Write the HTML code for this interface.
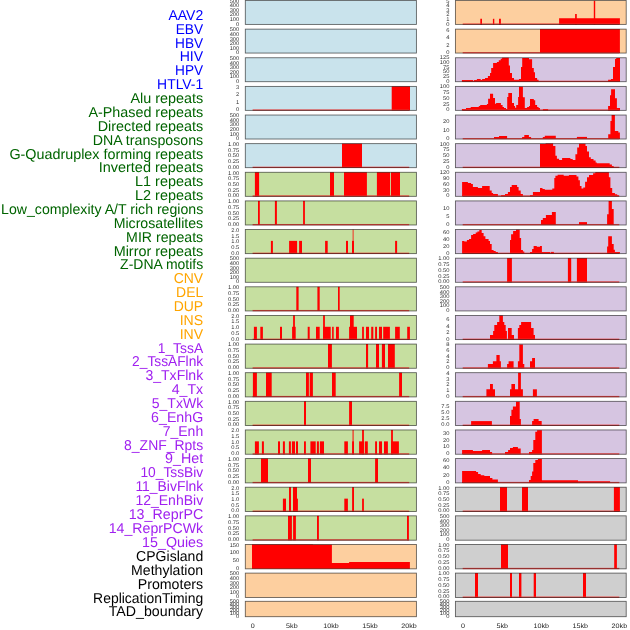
<!DOCTYPE html>
<html><head><meta charset="utf-8"><title>chart</title>
<style>html,body{margin:0;padding:0;background:#fff;}svg{display:block;will-change:transform;}text{font-family:"Liberation Sans",sans-serif;text-rendering:geometricPrecision;}</style>
</head><body>
<svg width="630" height="630" viewBox="0 0 630 630">
<rect width="630" height="630" fill="#ffffff"/>
<g font-size="14.35" text-anchor="end" opacity="0.999">
<text x="203.2" y="19.90" fill="#0000ff" textLength="34.8" lengthAdjust="spacingAndGlyphs">AAV2</text>
<text x="203.2" y="33.76" fill="#0000ff" textLength="27.5" lengthAdjust="spacingAndGlyphs">EBV</text>
<text x="203.2" y="47.62" fill="#0000ff" textLength="28.1" lengthAdjust="spacingAndGlyphs">HBV</text>
<text x="203.2" y="61.48" fill="#0000ff" textLength="23.5" lengthAdjust="spacingAndGlyphs">HIV</text>
<text x="203.2" y="75.34" fill="#0000ff" textLength="28.1" lengthAdjust="spacingAndGlyphs">HPV</text>
<text x="203.2" y="89.20" fill="#0000ff" textLength="46.1" lengthAdjust="spacingAndGlyphs">HTLV-1</text>
<text x="203.2" y="103.06" fill="#006400" textLength="72.8" lengthAdjust="spacingAndGlyphs">Alu repeats</text>
<text x="203.2" y="116.92" fill="#006400" textLength="114.8" lengthAdjust="spacingAndGlyphs">A-Phased repeats</text>
<text x="203.2" y="130.78" fill="#006400" textLength="105.5" lengthAdjust="spacingAndGlyphs">Directed repeats</text>
<text x="203.2" y="144.64" fill="#006400" textLength="110.5" lengthAdjust="spacingAndGlyphs">DNA transposons</text>
<text x="203.2" y="158.50" fill="#006400" textLength="193.8" lengthAdjust="spacingAndGlyphs">G-Quadruplex forming repeats</text>
<text x="203.2" y="172.36" fill="#006400" textLength="104.5" lengthAdjust="spacingAndGlyphs">Inverted repeats</text>
<text x="203.2" y="186.22" fill="#006400" textLength="68.1" lengthAdjust="spacingAndGlyphs">L1 repeats</text>
<text x="203.2" y="200.08" fill="#006400" textLength="68.1" lengthAdjust="spacingAndGlyphs">L2 repeats</text>
<text x="203.2" y="213.94" fill="#006400" textLength="202.1" lengthAdjust="spacingAndGlyphs">Low_complexity A/T rich regions</text>
<text x="203.2" y="227.80" fill="#006400" textLength="89.5" lengthAdjust="spacingAndGlyphs">Microsatellites</text>
<text x="203.2" y="241.66" fill="#006400" textLength="77.1" lengthAdjust="spacingAndGlyphs">MIR repeats</text>
<text x="203.2" y="255.52" fill="#006400" textLength="89.5" lengthAdjust="spacingAndGlyphs">Mirror repeats</text>
<text x="203.2" y="269.38" fill="#006400" textLength="83.1" lengthAdjust="spacingAndGlyphs">Z-DNA motifs</text>
<text x="203.2" y="283.24" fill="#ffa500" textLength="29.5" lengthAdjust="spacingAndGlyphs">CNV</text>
<text x="203.2" y="297.10" fill="#ffa500" textLength="27.1" lengthAdjust="spacingAndGlyphs">DEL</text>
<text x="203.2" y="310.96" fill="#ffa500" textLength="29.5" lengthAdjust="spacingAndGlyphs">DUP</text>
<text x="203.2" y="324.82" fill="#ffa500" textLength="23.5" lengthAdjust="spacingAndGlyphs">INS</text>
<text x="203.2" y="338.68" fill="#ffa500" textLength="23.5" lengthAdjust="spacingAndGlyphs">INV</text>
<text x="203.2" y="352.54" fill="#a020f0" textLength="45.5" lengthAdjust="spacingAndGlyphs">1_TssA</text>
<text x="203.2" y="366.40" fill="#a020f0" textLength="71.1" lengthAdjust="spacingAndGlyphs">2_TssAFlnk</text>
<text x="203.2" y="380.26" fill="#a020f0" textLength="57.8" lengthAdjust="spacingAndGlyphs">3_TxFlnk</text>
<text x="203.2" y="394.12" fill="#a020f0" textLength="31.5" lengthAdjust="spacingAndGlyphs">4_Tx</text>
<text x="203.2" y="407.98" fill="#a020f0" textLength="51.5" lengthAdjust="spacingAndGlyphs">5_TxWk</text>
<text x="203.2" y="421.84" fill="#a020f0" textLength="52.1" lengthAdjust="spacingAndGlyphs">6_EnhG</text>
<text x="203.2" y="435.70" fill="#a020f0" textLength="40.5" lengthAdjust="spacingAndGlyphs">7_Enh</text>
<text x="203.2" y="449.56" fill="#a020f0" textLength="79.1" lengthAdjust="spacingAndGlyphs">8_ZNF_Rpts</text>
<text x="203.2" y="463.42" fill="#a020f0" textLength="38.1" lengthAdjust="spacingAndGlyphs">9_Het</text>
<text x="203.2" y="477.28" fill="#a020f0" textLength="62.8" lengthAdjust="spacingAndGlyphs">10_TssBiv</text>
<text x="203.2" y="491.14" fill="#a020f0" textLength="67.8" lengthAdjust="spacingAndGlyphs">11_BivFlnk</text>
<text x="203.2" y="505.00" fill="#a020f0" textLength="67.8" lengthAdjust="spacingAndGlyphs">12_EnhBiv</text>
<text x="203.2" y="518.86" fill="#a020f0" textLength="74.5" lengthAdjust="spacingAndGlyphs">13_ReprPC</text>
<text x="203.2" y="532.72" fill="#a020f0" textLength="94.5" lengthAdjust="spacingAndGlyphs">14_ReprPCWk</text>
<text x="203.2" y="546.58" fill="#a020f0" textLength="61.1" lengthAdjust="spacingAndGlyphs">15_Quies</text>
<text x="203.2" y="561.04" fill="#000000" textLength="67.1" lengthAdjust="spacingAndGlyphs">CPGisland</text>
<text x="203.2" y="574.90" fill="#000000" textLength="72.1" lengthAdjust="spacingAndGlyphs">Methylation</text>
<text x="203.2" y="588.76" fill="#000000" textLength="65.5" lengthAdjust="spacingAndGlyphs">Promoters</text>
<text x="203.2" y="602.62" fill="#000000" textLength="110.1" lengthAdjust="spacingAndGlyphs">ReplicationTiming</text>
<text x="203.2" y="615.88" fill="#000000" textLength="94.5" lengthAdjust="spacingAndGlyphs">TAD_boundary</text>
</g>
<g font-size="5.4" text-anchor="end" fill="#303030">
<rect x="245.3" y="0.50" width="171.10" height="23.90" fill="#c9e3ec"/>
<rect x="245.3" y="0.50" width="171.10" height="23.90" fill="none" stroke="#000" stroke-opacity="0.62" stroke-width="0.85"/>
<text x="239.3" y="2.79" textLength="9.64" lengthAdjust="spacingAndGlyphs">500</text>
<text x="239.3" y="7.35" textLength="9.64" lengthAdjust="spacingAndGlyphs">400</text>
<text x="239.3" y="11.91" textLength="9.64" lengthAdjust="spacingAndGlyphs">300</text>
<text x="239.3" y="16.48" textLength="9.64" lengthAdjust="spacingAndGlyphs">200</text>
<text x="239.3" y="21.04" textLength="9.64" lengthAdjust="spacingAndGlyphs">100</text>
<text x="239.3" y="25.60" textLength="3.21" lengthAdjust="spacingAndGlyphs">0</text>
<rect x="245.3" y="29.13" width="171.10" height="23.93" fill="#c9e3ec"/>
<rect x="245.3" y="29.13" width="171.10" height="23.93" fill="none" stroke="#000" stroke-opacity="0.62" stroke-width="0.85"/>
<text x="239.3" y="31.42" textLength="9.64" lengthAdjust="spacingAndGlyphs">500</text>
<text x="239.3" y="35.98" textLength="9.64" lengthAdjust="spacingAndGlyphs">400</text>
<text x="239.3" y="40.54" textLength="9.64" lengthAdjust="spacingAndGlyphs">300</text>
<text x="239.3" y="45.11" textLength="9.64" lengthAdjust="spacingAndGlyphs">200</text>
<text x="239.3" y="49.67" textLength="9.64" lengthAdjust="spacingAndGlyphs">100</text>
<text x="239.3" y="54.23" textLength="3.21" lengthAdjust="spacingAndGlyphs">0</text>
<rect x="245.3" y="57.76" width="171.10" height="23.95" fill="#c9e3ec"/>
<rect x="245.3" y="57.76" width="171.10" height="23.95" fill="none" stroke="#000" stroke-opacity="0.62" stroke-width="0.85"/>
<text x="239.3" y="60.05" textLength="9.64" lengthAdjust="spacingAndGlyphs">500</text>
<text x="239.3" y="64.61" textLength="9.64" lengthAdjust="spacingAndGlyphs">400</text>
<text x="239.3" y="69.17" textLength="9.64" lengthAdjust="spacingAndGlyphs">300</text>
<text x="239.3" y="73.74" textLength="9.64" lengthAdjust="spacingAndGlyphs">200</text>
<text x="239.3" y="78.30" textLength="9.64" lengthAdjust="spacingAndGlyphs">100</text>
<text x="239.3" y="82.86" textLength="3.21" lengthAdjust="spacingAndGlyphs">0</text>
<rect x="245.3" y="86.39" width="171.10" height="23.98" fill="#c9e3ec"/>
<rect x="391.7" y="86.39" width="18.3" height="23.98" fill="#ff0000"/>
<rect x="252.6" y="109.37" width="156.6" height="1.3" fill="#ee3430" fill-opacity="0.85"/>
<rect x="245.3" y="86.39" width="171.10" height="23.98" fill="none" stroke="#000" stroke-opacity="0.62" stroke-width="0.85"/>
<text x="239.3" y="88.68" textLength="3.21" lengthAdjust="spacingAndGlyphs">3</text>
<text x="239.3" y="96.28" textLength="3.21" lengthAdjust="spacingAndGlyphs">2</text>
<text x="239.3" y="103.89" textLength="3.21" lengthAdjust="spacingAndGlyphs">1</text>
<text x="239.3" y="111.49" textLength="3.21" lengthAdjust="spacingAndGlyphs">0</text>
<rect x="245.3" y="115.02" width="171.10" height="24.00" fill="#c9e3ec"/>
<rect x="245.3" y="115.02" width="171.10" height="24.00" fill="none" stroke="#000" stroke-opacity="0.62" stroke-width="0.85"/>
<text x="239.3" y="117.31" textLength="9.64" lengthAdjust="spacingAndGlyphs">500</text>
<text x="239.3" y="121.87" textLength="9.64" lengthAdjust="spacingAndGlyphs">400</text>
<text x="239.3" y="126.43" textLength="9.64" lengthAdjust="spacingAndGlyphs">300</text>
<text x="239.3" y="131.00" textLength="9.64" lengthAdjust="spacingAndGlyphs">200</text>
<text x="239.3" y="135.56" textLength="9.64" lengthAdjust="spacingAndGlyphs">100</text>
<text x="239.3" y="140.12" textLength="3.21" lengthAdjust="spacingAndGlyphs">0</text>
<rect x="245.3" y="143.65" width="171.10" height="24.03" fill="#c9e3ec"/>
<rect x="342.0" y="143.65" width="20.0" height="24.03" fill="#ff0000"/>
<rect x="252.6" y="166.68" width="156.6" height="1.3" fill="#ee3430" fill-opacity="0.85"/>
<rect x="245.3" y="143.65" width="171.10" height="24.03" fill="none" stroke="#000" stroke-opacity="0.62" stroke-width="0.85"/>
<text x="239.3" y="145.94" textLength="11.24" lengthAdjust="spacingAndGlyphs">1.00</text>
<text x="239.3" y="151.64" textLength="11.24" lengthAdjust="spacingAndGlyphs">0.75</text>
<text x="239.3" y="157.35" textLength="11.24" lengthAdjust="spacingAndGlyphs">0.50</text>
<text x="239.3" y="163.05" textLength="11.24" lengthAdjust="spacingAndGlyphs">0.25</text>
<text x="239.3" y="168.75" textLength="11.24" lengthAdjust="spacingAndGlyphs">0.00</text>
<rect x="245.3" y="172.28" width="171.10" height="24.05" fill="#c6dfa0"/>
<rect x="254.9" y="172.28" width="4.2" height="24.05" fill="#ff0000"/>
<rect x="330.0" y="172.28" width="4.0" height="24.05" fill="#ff0000"/>
<rect x="344.0" y="172.28" width="22.9" height="24.05" fill="#ff0000"/>
<rect x="376.9" y="172.28" width="13.1" height="24.05" fill="#ff0000"/>
<rect x="390.9" y="172.28" width="9.1" height="24.05" fill="#ff0000"/>
<rect x="252.6" y="195.33" width="156.6" height="1.3" fill="#ee3430" fill-opacity="0.85"/>
<rect x="245.3" y="172.28" width="171.10" height="24.05" fill="none" stroke="#000" stroke-opacity="0.62" stroke-width="0.85"/>
<text x="239.3" y="174.57" textLength="11.24" lengthAdjust="spacingAndGlyphs">1.00</text>
<text x="239.3" y="180.27" textLength="11.24" lengthAdjust="spacingAndGlyphs">0.75</text>
<text x="239.3" y="185.98" textLength="11.24" lengthAdjust="spacingAndGlyphs">0.50</text>
<text x="239.3" y="191.68" textLength="11.24" lengthAdjust="spacingAndGlyphs">0.25</text>
<text x="239.3" y="197.38" textLength="11.24" lengthAdjust="spacingAndGlyphs">0.00</text>
<rect x="245.3" y="200.91" width="171.10" height="24.08" fill="#c6dfa0"/>
<rect x="258.0" y="200.91" width="1.8" height="24.08" fill="#ff0000"/>
<rect x="274.9" y="200.91" width="2.0" height="24.08" fill="#ff0000"/>
<rect x="303.1" y="200.91" width="1.8" height="24.08" fill="#ff0000"/>
<rect x="252.6" y="223.99" width="156.6" height="1.3" fill="#ee3430" fill-opacity="0.85"/>
<rect x="245.3" y="200.91" width="171.10" height="24.08" fill="none" stroke="#000" stroke-opacity="0.62" stroke-width="0.85"/>
<text x="239.3" y="203.20" textLength="11.24" lengthAdjust="spacingAndGlyphs">1.00</text>
<text x="239.3" y="208.90" textLength="11.24" lengthAdjust="spacingAndGlyphs">0.75</text>
<text x="239.3" y="214.61" textLength="11.24" lengthAdjust="spacingAndGlyphs">0.50</text>
<text x="239.3" y="220.31" textLength="11.24" lengthAdjust="spacingAndGlyphs">0.25</text>
<text x="239.3" y="226.01" textLength="11.24" lengthAdjust="spacingAndGlyphs">0.00</text>
<rect x="245.3" y="229.54" width="171.10" height="24.10" fill="#c6dfa0"/>
<rect x="270.9" y="240.87" width="2.0" height="12.77" fill="#ff0000"/>
<rect x="289.1" y="240.87" width="8.0" height="12.77" fill="#ff0000"/>
<rect x="299.1" y="240.87" width="2.9" height="12.77" fill="#ff0000"/>
<rect x="325.1" y="240.87" width="2.6" height="12.77" fill="#ff0000"/>
<rect x="346.0" y="240.87" width="2.0" height="12.77" fill="#ff0000"/>
<rect x="352.0" y="240.87" width="2.0" height="12.77" fill="#ff0000"/>
<rect x="352.5" y="229.54" width="1.3" height="24.10" fill="#ff0000" fill-opacity="0.6"/>
<rect x="395.1" y="240.87" width="2.0" height="12.77" fill="#ff0000"/>
<rect x="252.6" y="252.64" width="156.6" height="1.3" fill="#ee3430" fill-opacity="0.85"/>
<rect x="245.3" y="229.54" width="171.10" height="24.10" fill="none" stroke="#000" stroke-opacity="0.62" stroke-width="0.85"/>
<text x="239.3" y="231.83" textLength="8.03" lengthAdjust="spacingAndGlyphs">2.0</text>
<text x="239.3" y="237.53" textLength="8.03" lengthAdjust="spacingAndGlyphs">1.5</text>
<text x="239.3" y="243.24" textLength="8.03" lengthAdjust="spacingAndGlyphs">1.0</text>
<text x="239.3" y="248.94" textLength="8.03" lengthAdjust="spacingAndGlyphs">0.5</text>
<text x="239.3" y="254.64" textLength="8.03" lengthAdjust="spacingAndGlyphs">0.0</text>
<rect x="245.3" y="258.17" width="171.10" height="24.12" fill="#c6dfa0"/>
<rect x="245.3" y="258.17" width="171.10" height="24.12" fill="none" stroke="#000" stroke-opacity="0.62" stroke-width="0.85"/>
<text x="239.3" y="260.46" textLength="9.64" lengthAdjust="spacingAndGlyphs">500</text>
<text x="239.3" y="265.02" textLength="9.64" lengthAdjust="spacingAndGlyphs">400</text>
<text x="239.3" y="269.58" textLength="9.64" lengthAdjust="spacingAndGlyphs">300</text>
<text x="239.3" y="274.15" textLength="9.64" lengthAdjust="spacingAndGlyphs">200</text>
<text x="239.3" y="278.71" textLength="9.64" lengthAdjust="spacingAndGlyphs">100</text>
<text x="239.3" y="283.27" textLength="3.21" lengthAdjust="spacingAndGlyphs">0</text>
<rect x="245.3" y="286.80" width="171.10" height="24.15" fill="#c6dfa0"/>
<rect x="296.3" y="286.80" width="2.3" height="24.15" fill="#ff0000"/>
<rect x="317.4" y="286.80" width="2.3" height="24.15" fill="#ff0000"/>
<rect x="338.0" y="286.80" width="1.7" height="24.15" fill="#ff0000"/>
<rect x="252.6" y="309.95" width="156.6" height="1.3" fill="#ee3430" fill-opacity="0.85"/>
<rect x="245.3" y="286.80" width="171.10" height="24.15" fill="none" stroke="#000" stroke-opacity="0.62" stroke-width="0.85"/>
<text x="239.3" y="289.09" textLength="11.24" lengthAdjust="spacingAndGlyphs">1.00</text>
<text x="239.3" y="294.79" textLength="11.24" lengthAdjust="spacingAndGlyphs">0.75</text>
<text x="239.3" y="300.50" textLength="11.24" lengthAdjust="spacingAndGlyphs">0.50</text>
<text x="239.3" y="306.20" textLength="11.24" lengthAdjust="spacingAndGlyphs">0.25</text>
<text x="239.3" y="311.90" textLength="11.24" lengthAdjust="spacingAndGlyphs">0.00</text>
<rect x="245.3" y="315.43" width="171.10" height="24.18" fill="#c6dfa0"/>
<rect x="253.9" y="326.79" width="3.0" height="12.81" fill="#ff0000"/>
<rect x="260.3" y="326.79" width="2.6" height="12.81" fill="#ff0000"/>
<rect x="280.0" y="326.79" width="2.0" height="12.81" fill="#ff0000"/>
<rect x="292.1" y="326.79" width="3.6" height="12.81" fill="#ff0000"/>
<rect x="307.7" y="326.79" width="2.0" height="12.81" fill="#ff0000"/>
<rect x="316.0" y="326.79" width="3.7" height="12.81" fill="#ff0000"/>
<rect x="323.1" y="326.79" width="7.6" height="12.81" fill="#ff0000"/>
<rect x="332.1" y="326.79" width="1.6" height="12.81" fill="#ff0000"/>
<rect x="336.0" y="326.79" width="2.9" height="12.81" fill="#ff0000"/>
<rect x="349.1" y="326.79" width="7.9" height="12.81" fill="#ff0000"/>
<rect x="362.1" y="326.79" width="1.8" height="12.81" fill="#ff0000"/>
<rect x="366.0" y="326.79" width="3.0" height="12.81" fill="#ff0000"/>
<rect x="371.2" y="326.79" width="2.1" height="12.81" fill="#ff0000"/>
<rect x="375.1" y="326.79" width="1.9" height="12.81" fill="#ff0000"/>
<rect x="379.0" y="326.79" width="3.0" height="12.81" fill="#ff0000"/>
<rect x="383.2" y="326.79" width="6.7" height="12.81" fill="#ff0000"/>
<rect x="395.1" y="326.79" width="4.7" height="12.81" fill="#ff0000"/>
<rect x="407.2" y="326.79" width="2.7" height="12.81" fill="#ff0000"/>
<rect x="293.1" y="315.43" width="1.8" height="24.18" fill="#ff0000"/>
<rect x="323.1" y="315.43" width="1.8" height="24.18" fill="#ff0000"/>
<rect x="350.0" y="315.43" width="3.7" height="24.18" fill="#ff0000"/>
<rect x="252.6" y="338.61" width="156.6" height="1.3" fill="#ee3430" fill-opacity="0.85"/>
<rect x="245.3" y="315.43" width="171.10" height="24.18" fill="none" stroke="#000" stroke-opacity="0.62" stroke-width="0.85"/>
<text x="239.3" y="317.72" textLength="8.03" lengthAdjust="spacingAndGlyphs">2.0</text>
<text x="239.3" y="323.42" textLength="8.03" lengthAdjust="spacingAndGlyphs">1.5</text>
<text x="239.3" y="329.13" textLength="8.03" lengthAdjust="spacingAndGlyphs">1.0</text>
<text x="239.3" y="334.83" textLength="8.03" lengthAdjust="spacingAndGlyphs">0.5</text>
<text x="239.3" y="340.53" textLength="8.03" lengthAdjust="spacingAndGlyphs">0.0</text>
<rect x="245.3" y="344.06" width="171.10" height="24.20" fill="#c6dfa0"/>
<rect x="328.0" y="344.06" width="3.9" height="24.20" fill="#ff0000"/>
<rect x="366.0" y="344.06" width="2.1" height="24.20" fill="#ff0000"/>
<rect x="376.0" y="344.06" width="3.0" height="24.20" fill="#ff0000"/>
<rect x="381.9" y="344.06" width="3.1" height="24.20" fill="#ff0000"/>
<rect x="388.0" y="344.06" width="6.8" height="24.20" fill="#ff0000"/>
<rect x="252.6" y="367.26" width="156.6" height="1.3" fill="#ee3430" fill-opacity="0.85"/>
<rect x="245.3" y="344.06" width="171.10" height="24.20" fill="none" stroke="#000" stroke-opacity="0.62" stroke-width="0.85"/>
<text x="239.3" y="346.35" textLength="11.24" lengthAdjust="spacingAndGlyphs">1.00</text>
<text x="239.3" y="352.05" textLength="11.24" lengthAdjust="spacingAndGlyphs">0.75</text>
<text x="239.3" y="357.76" textLength="11.24" lengthAdjust="spacingAndGlyphs">0.50</text>
<text x="239.3" y="363.46" textLength="11.24" lengthAdjust="spacingAndGlyphs">0.25</text>
<text x="239.3" y="369.16" textLength="11.24" lengthAdjust="spacingAndGlyphs">0.00</text>
<rect x="245.3" y="372.69" width="171.10" height="24.22" fill="#c6dfa0"/>
<rect x="252.9" y="372.69" width="4.0" height="24.22" fill="#ff0000"/>
<rect x="266.0" y="372.69" width="5.7" height="24.22" fill="#ff0000"/>
<rect x="306.0" y="372.69" width="2.9" height="24.22" fill="#ff0000"/>
<rect x="309.7" y="372.69" width="3.2" height="24.22" fill="#ff0000"/>
<rect x="332.0" y="372.69" width="3.7" height="24.22" fill="#ff0000"/>
<rect x="399.1" y="372.69" width="2.9" height="24.22" fill="#ff0000"/>
<rect x="252.6" y="395.91" width="156.6" height="1.3" fill="#ee3430" fill-opacity="0.85"/>
<rect x="245.3" y="372.69" width="171.10" height="24.22" fill="none" stroke="#000" stroke-opacity="0.62" stroke-width="0.85"/>
<text x="239.3" y="374.98" textLength="11.24" lengthAdjust="spacingAndGlyphs">1.00</text>
<text x="239.3" y="380.68" textLength="11.24" lengthAdjust="spacingAndGlyphs">0.75</text>
<text x="239.3" y="386.39" textLength="11.24" lengthAdjust="spacingAndGlyphs">0.50</text>
<text x="239.3" y="392.09" textLength="11.24" lengthAdjust="spacingAndGlyphs">0.25</text>
<text x="239.3" y="397.79" textLength="11.24" lengthAdjust="spacingAndGlyphs">0.00</text>
<rect x="245.3" y="401.32" width="171.10" height="24.25" fill="#c6dfa0"/>
<rect x="304.0" y="401.32" width="2.0" height="24.25" fill="#ff0000"/>
<rect x="349.1" y="401.32" width="2.9" height="24.25" fill="#ff0000"/>
<rect x="252.6" y="424.57" width="156.6" height="1.3" fill="#ee3430" fill-opacity="0.85"/>
<rect x="245.3" y="401.32" width="171.10" height="24.25" fill="none" stroke="#000" stroke-opacity="0.62" stroke-width="0.85"/>
<text x="239.3" y="403.61" textLength="11.24" lengthAdjust="spacingAndGlyphs">1.00</text>
<text x="239.3" y="409.31" textLength="11.24" lengthAdjust="spacingAndGlyphs">0.75</text>
<text x="239.3" y="415.02" textLength="11.24" lengthAdjust="spacingAndGlyphs">0.50</text>
<text x="239.3" y="420.72" textLength="11.24" lengthAdjust="spacingAndGlyphs">0.25</text>
<text x="239.3" y="426.42" textLength="11.24" lengthAdjust="spacingAndGlyphs">0.00</text>
<rect x="245.3" y="429.95" width="171.10" height="24.28" fill="#c6dfa0"/>
<rect x="254.9" y="441.36" width="4.0" height="12.87" fill="#ff0000"/>
<rect x="261.9" y="441.36" width="2.0" height="12.87" fill="#ff0000"/>
<rect x="278.0" y="441.36" width="2.0" height="12.87" fill="#ff0000"/>
<rect x="282.9" y="441.36" width="2.0" height="12.87" fill="#ff0000"/>
<rect x="288.9" y="441.36" width="2.0" height="12.87" fill="#ff0000"/>
<rect x="291.9" y="441.36" width="3.1" height="12.87" fill="#ff0000"/>
<rect x="296.0" y="441.36" width="2.0" height="12.87" fill="#ff0000"/>
<rect x="304.0" y="441.36" width="1.9" height="12.87" fill="#ff0000"/>
<rect x="310.4" y="441.36" width="5.3" height="12.87" fill="#ff0000"/>
<rect x="316.9" y="441.36" width="2.0" height="12.87" fill="#ff0000"/>
<rect x="319.9" y="441.36" width="4.1" height="12.87" fill="#ff0000"/>
<rect x="344.3" y="441.36" width="3.6" height="12.87" fill="#ff0000"/>
<rect x="352.1" y="441.36" width="1.9" height="12.87" fill="#ff0000"/>
<rect x="359.1" y="441.36" width="4.8" height="12.87" fill="#ff0000"/>
<rect x="364.8" y="441.36" width="3.0" height="12.87" fill="#ff0000"/>
<rect x="375.1" y="441.36" width="1.9" height="12.87" fill="#ff0000"/>
<rect x="379.0" y="441.36" width="3.0" height="12.87" fill="#ff0000"/>
<rect x="384.0" y="441.36" width="3.9" height="12.87" fill="#ff0000"/>
<rect x="391.1" y="441.36" width="7.8" height="12.87" fill="#ff0000"/>
<rect x="352.4" y="429.95" width="1.4" height="24.28" fill="#ff0000" fill-opacity="0.7"/>
<rect x="362.1" y="429.95" width="1.8" height="24.28" fill="#ff0000"/>
<rect x="391.1" y="429.95" width="1.8" height="24.28" fill="#ff0000"/>
<rect x="252.6" y="453.23" width="156.6" height="1.3" fill="#ee3430" fill-opacity="0.85"/>
<rect x="245.3" y="429.95" width="171.10" height="24.28" fill="none" stroke="#000" stroke-opacity="0.62" stroke-width="0.85"/>
<text x="239.3" y="432.24" textLength="8.03" lengthAdjust="spacingAndGlyphs">2.0</text>
<text x="239.3" y="437.94" textLength="8.03" lengthAdjust="spacingAndGlyphs">1.5</text>
<text x="239.3" y="443.65" textLength="8.03" lengthAdjust="spacingAndGlyphs">1.0</text>
<text x="239.3" y="449.35" textLength="8.03" lengthAdjust="spacingAndGlyphs">0.5</text>
<text x="239.3" y="455.05" textLength="8.03" lengthAdjust="spacingAndGlyphs">0.0</text>
<rect x="245.3" y="458.58" width="171.10" height="24.30" fill="#c6dfa0"/>
<rect x="261.0" y="458.58" width="7.0" height="24.30" fill="#ff0000"/>
<rect x="308.0" y="458.58" width="3.0" height="24.30" fill="#ff0000"/>
<rect x="375.1" y="458.58" width="2.9" height="24.30" fill="#ff0000"/>
<rect x="252.6" y="481.88" width="156.6" height="1.3" fill="#ee3430" fill-opacity="0.85"/>
<rect x="245.3" y="458.58" width="171.10" height="24.30" fill="none" stroke="#000" stroke-opacity="0.62" stroke-width="0.85"/>
<text x="239.3" y="460.87" textLength="11.24" lengthAdjust="spacingAndGlyphs">1.00</text>
<text x="239.3" y="466.57" textLength="11.24" lengthAdjust="spacingAndGlyphs">0.75</text>
<text x="239.3" y="472.28" textLength="11.24" lengthAdjust="spacingAndGlyphs">0.50</text>
<text x="239.3" y="477.98" textLength="11.24" lengthAdjust="spacingAndGlyphs">0.25</text>
<text x="239.3" y="483.68" textLength="11.24" lengthAdjust="spacingAndGlyphs">0.00</text>
<rect x="245.3" y="487.21" width="171.10" height="24.32" fill="#c6dfa0"/>
<rect x="282.9" y="498.64" width="3.1" height="12.89" fill="#ff0000"/>
<rect x="297.0" y="498.64" width="0.9" height="12.89" fill="#ff0000"/>
<rect x="344.3" y="498.64" width="3.6" height="12.89" fill="#ff0000"/>
<rect x="362.1" y="498.64" width="1.8" height="12.89" fill="#ff0000"/>
<rect x="289.0" y="487.21" width="2.0" height="24.32" fill="#ff0000"/>
<rect x="293.0" y="487.21" width="4.0" height="24.32" fill="#ff0000"/>
<rect x="352.1" y="487.21" width="1.9" height="24.32" fill="#ff0000"/>
<rect x="252.6" y="510.53" width="156.6" height="1.3" fill="#ee3430" fill-opacity="0.85"/>
<rect x="245.3" y="487.21" width="171.10" height="24.32" fill="none" stroke="#000" stroke-opacity="0.62" stroke-width="0.85"/>
<text x="239.3" y="489.50" textLength="8.03" lengthAdjust="spacingAndGlyphs">2.0</text>
<text x="239.3" y="495.20" textLength="8.03" lengthAdjust="spacingAndGlyphs">1.5</text>
<text x="239.3" y="500.91" textLength="8.03" lengthAdjust="spacingAndGlyphs">1.0</text>
<text x="239.3" y="506.61" textLength="8.03" lengthAdjust="spacingAndGlyphs">0.5</text>
<text x="239.3" y="512.31" textLength="8.03" lengthAdjust="spacingAndGlyphs">0.0</text>
<rect x="245.3" y="515.84" width="171.10" height="24.35" fill="#c6dfa0"/>
<rect x="288.0" y="515.84" width="3.9" height="24.35" fill="#ff0000"/>
<rect x="293.1" y="515.84" width="2.8" height="24.35" fill="#ff0000"/>
<rect x="317.0" y="515.84" width="1.9" height="24.35" fill="#ff0000"/>
<rect x="407.0" y="515.84" width="1.9" height="24.35" fill="#ff0000"/>
<rect x="252.6" y="539.19" width="156.6" height="1.3" fill="#ee3430" fill-opacity="0.85"/>
<rect x="245.3" y="515.84" width="171.10" height="24.35" fill="none" stroke="#000" stroke-opacity="0.62" stroke-width="0.85"/>
<text x="239.3" y="518.13" textLength="11.24" lengthAdjust="spacingAndGlyphs">1.00</text>
<text x="239.3" y="523.83" textLength="11.24" lengthAdjust="spacingAndGlyphs">0.75</text>
<text x="239.3" y="529.54" textLength="11.24" lengthAdjust="spacingAndGlyphs">0.50</text>
<text x="239.3" y="535.24" textLength="11.24" lengthAdjust="spacingAndGlyphs">0.25</text>
<text x="239.3" y="540.94" textLength="11.24" lengthAdjust="spacingAndGlyphs">0.00</text>
<rect x="245.3" y="544.47" width="171.10" height="24.38" fill="#fdcf9f"/>
<polygon fill="#ff0000" points="252.0,568.8 252.0,544.5 312.9,544.5 312.9,544.8 331.9,544.8 331.9,562.9 349.1,562.9 349.1,562.0 409.9,562.0 409.9,568.8"/>
<rect x="245.3" y="544.47" width="171.10" height="24.38" fill="none" stroke="#000" stroke-opacity="0.62" stroke-width="0.85"/>
<text x="239.3" y="546.76" textLength="9.64" lengthAdjust="spacingAndGlyphs">150</text>
<text x="239.3" y="554.36" textLength="9.64" lengthAdjust="spacingAndGlyphs">100</text>
<text x="239.3" y="561.97" textLength="6.42" lengthAdjust="spacingAndGlyphs">50</text>
<text x="239.3" y="569.57" textLength="3.21" lengthAdjust="spacingAndGlyphs">0</text>
<rect x="245.3" y="573.10" width="171.10" height="24.40" fill="#fdcf9f"/>
<rect x="245.3" y="573.10" width="171.10" height="24.40" fill="none" stroke="#000" stroke-opacity="0.62" stroke-width="0.85"/>
<text x="239.3" y="575.39" textLength="9.64" lengthAdjust="spacingAndGlyphs">500</text>
<text x="239.3" y="579.95" textLength="9.64" lengthAdjust="spacingAndGlyphs">400</text>
<text x="239.3" y="584.51" textLength="9.64" lengthAdjust="spacingAndGlyphs">300</text>
<text x="239.3" y="589.08" textLength="9.64" lengthAdjust="spacingAndGlyphs">200</text>
<text x="239.3" y="593.64" textLength="9.64" lengthAdjust="spacingAndGlyphs">100</text>
<text x="239.3" y="598.20" textLength="3.21" lengthAdjust="spacingAndGlyphs">0</text>
<rect x="245.3" y="601.30" width="171.10" height="15.40" fill="#fdcf9f"/>
<rect x="245.3" y="601.30" width="171.10" height="15.40" fill="none" stroke="#000" stroke-opacity="0.62" stroke-width="0.85"/>
<text x="239.3" y="603.18" textLength="9.64" lengthAdjust="spacingAndGlyphs">500</text>
<text x="239.3" y="606.12" textLength="9.64" lengthAdjust="spacingAndGlyphs">400</text>
<text x="239.3" y="609.05" textLength="9.64" lengthAdjust="spacingAndGlyphs">300</text>
<text x="239.3" y="611.98" textLength="9.64" lengthAdjust="spacingAndGlyphs">200</text>
<text x="239.3" y="614.92" textLength="9.64" lengthAdjust="spacingAndGlyphs">100</text>
<text x="239.3" y="617.85" textLength="3.21" lengthAdjust="spacingAndGlyphs">0</text>
<rect x="455.4" y="0.50" width="170.80" height="23.90" fill="#fdcf9f"/>
<polygon fill="#ff0000" points="480.3,24.4 480.3,18.8 482.0,18.8 482.0,24.4"/>
<polygon fill="#ff0000" points="492.9,24.4 492.9,18.8 494.3,18.8 494.3,24.4"/>
<polygon fill="#ff0000" points="499.0,24.4 499.0,18.8 500.9,18.8 500.9,24.4"/>
<polygon fill="#ff0000" points="559.1,24.4 559.1,18.3 619.9,18.3 619.9,24.4"/>
<polygon fill="#ff0000" points="575.1,24.4 575.1,13.9 576.8,13.9 576.8,24.4"/>
<polygon fill="#ff0000" points="593.8,24.4 593.8,0.8 595.2,0.8 595.2,24.4"/>
<rect x="462.7" y="23.40" width="156.6" height="1.3" fill="#ee3430" fill-opacity="0.85"/>
<rect x="455.4" y="0.50" width="170.80" height="23.90" fill="none" stroke="#000" stroke-opacity="0.62" stroke-width="0.85"/>
<text x="449.4" y="25.60" textLength="3.21" lengthAdjust="spacingAndGlyphs">0</text>
<text x="449.4" y="21.04" textLength="3.21" lengthAdjust="spacingAndGlyphs">1</text>
<text x="449.4" y="16.48" textLength="3.21" lengthAdjust="spacingAndGlyphs">2</text>
<text x="449.4" y="11.91" textLength="3.21" lengthAdjust="spacingAndGlyphs">3</text>
<text x="449.4" y="7.35" textLength="3.21" lengthAdjust="spacingAndGlyphs">4</text>
<text x="449.4" y="2.79" textLength="3.21" lengthAdjust="spacingAndGlyphs">5</text>
<rect x="455.4" y="29.13" width="170.80" height="23.93" fill="#fdcf9f"/>
<rect x="540.0" y="29.13" width="79.9" height="23.93" fill="#ff0000"/>
<rect x="462.7" y="52.05" width="156.6" height="1.3" fill="#ee3430" fill-opacity="0.85"/>
<rect x="455.4" y="29.13" width="170.80" height="23.93" fill="none" stroke="#000" stroke-opacity="0.62" stroke-width="0.85"/>
<text x="449.4" y="32.12" textLength="3.21" lengthAdjust="spacingAndGlyphs">6</text>
<text x="449.4" y="39.49" textLength="3.21" lengthAdjust="spacingAndGlyphs">4</text>
<text x="449.4" y="46.86" textLength="3.21" lengthAdjust="spacingAndGlyphs">2</text>
<text x="449.4" y="54.23" textLength="3.21" lengthAdjust="spacingAndGlyphs">0</text>
<rect x="455.4" y="57.76" width="170.80" height="23.95" fill="#d6c5e1"/>
<polygon fill="#ff0000" points="461.9,81.7 461.9,80.0 473.1,80.0 473.1,81.2 474.0,81.2 474.0,80.0 476.9,80.0 476.9,78.9 480.7,78.9 480.7,80.0 482.1,80.0 482.1,78.9 485.0,78.9 485.0,77.9 487.9,77.9 487.9,76.0 490.0,76.0 490.0,73.0 491.2,73.0 491.2,67.9 493.1,67.9 493.1,62.9 496.9,62.9 496.9,61.9 498.8,61.9 498.8,60.3 500.7,60.3 500.7,58.7 502.1,58.7 502.1,57.7 508.8,57.7 508.8,65.5 510.0,65.5 510.0,73.0 512.0,73.0 512.0,78.1 514.0,78.1 514.0,79.8 519.0,79.8 519.0,78.9 521.0,78.9 521.0,67.0 522.2,67.0 522.2,57.9 529.0,57.9 529.0,59.3 532.1,59.3 532.1,67.9 533.8,67.9 533.8,72.2 535.0,72.2 535.0,78.1 537.1,78.1 537.1,79.8 538.6,79.8 538.6,81.7"/>
<polygon fill="#ff0000" points="608.1,81.7 608.1,79.8 611.0,79.8 611.0,78.9 613.0,78.9 613.0,67.0 615.0,67.0 615.0,58.9 616.2,58.9 616.2,57.9 620.0,57.9 620.0,81.7"/>
<rect x="462.7" y="80.71" width="156.6" height="1.3" fill="#ee3430" fill-opacity="0.85"/>
<rect x="455.4" y="57.76" width="170.80" height="23.95" fill="none" stroke="#000" stroke-opacity="0.62" stroke-width="0.85"/>
<text x="449.4" y="59.19" textLength="9.64" lengthAdjust="spacingAndGlyphs">125</text>
<text x="449.4" y="63.93" textLength="9.64" lengthAdjust="spacingAndGlyphs">100</text>
<text x="449.4" y="68.66" textLength="6.42" lengthAdjust="spacingAndGlyphs">75</text>
<text x="449.4" y="73.39" textLength="6.42" lengthAdjust="spacingAndGlyphs">50</text>
<text x="449.4" y="78.13" textLength="6.42" lengthAdjust="spacingAndGlyphs">25</text>
<text x="449.4" y="82.86" textLength="3.21" lengthAdjust="spacingAndGlyphs">0</text>
<rect x="455.4" y="86.39" width="170.80" height="23.98" fill="#d6c5e1"/>
<polygon fill="#ff0000" points="461.9,110.4 461.9,109.0 466.0,109.0 466.0,108.0 470.7,108.0 470.7,106.9 478.8,106.9 478.8,105.9 480.2,105.9 480.2,105.0 486.9,105.0 486.9,104.0 488.1,104.0 488.1,98.8 490.0,98.8 490.0,93.7 493.1,93.7 493.1,98.1 495.0,98.1 495.0,103.8 496.1,103.8 496.1,103.0 500.9,103.0 500.9,105.1 502.6,105.1 502.6,106.9 504.0,106.9 504.0,108.0 506.0,108.0 506.0,109.0 507.2,109.0 507.2,96.9 508.3,96.9 508.3,93.0 512.0,93.0 512.0,103.0 514.0,103.0 514.0,106.1 515.0,106.1 515.0,107.8 516.2,107.8 516.2,105.0 518.1,105.0 518.1,97.1 519.0,97.1 519.0,86.7 522.9,86.7 522.9,97.3 524.8,97.3 524.8,108.0 527.1,108.0 527.1,106.9 529.0,106.9 529.0,105.9 530.0,105.9 530.0,99.0 533.8,99.0 533.8,100.2 535.2,100.2 535.2,105.1 537.1,105.1 537.1,106.9 538.6,106.9 538.6,108.0 540.0,108.0 540.0,110.4"/>
<polygon fill="#ff0000" points="542.9,110.4 542.9,109.0 548.1,109.0 548.1,110.4"/>
<polygon fill="#ff0000" points="608.1,110.4 608.1,106.1 610.0,106.1 610.0,95.2 611.1,95.2 611.1,89.2 615.0,89.2 615.0,98.3 616.9,98.3 616.9,108.0 620.0,108.0 620.0,110.4"/>
<rect x="462.7" y="109.37" width="156.6" height="1.3" fill="#ee3430" fill-opacity="0.85"/>
<rect x="455.4" y="86.39" width="170.80" height="23.98" fill="none" stroke="#000" stroke-opacity="0.62" stroke-width="0.85"/>
<text x="449.4" y="88.01" textLength="9.64" lengthAdjust="spacingAndGlyphs">100</text>
<text x="449.4" y="93.88" textLength="6.42" lengthAdjust="spacingAndGlyphs">75</text>
<text x="449.4" y="99.75" textLength="6.42" lengthAdjust="spacingAndGlyphs">50</text>
<text x="449.4" y="105.62" textLength="6.42" lengthAdjust="spacingAndGlyphs">25</text>
<text x="449.4" y="111.49" textLength="3.21" lengthAdjust="spacingAndGlyphs">0</text>
<rect x="455.4" y="115.02" width="170.80" height="24.00" fill="#d6c5e1"/>
<polygon fill="#ff0000" points="494.0,139.0 494.0,137.0 499.0,137.0 499.0,136.0 507.1,136.0 507.1,139.0"/>
<polygon fill="#ff0000" points="522.1,139.0 522.1,137.0 524.3,137.0 524.3,135.1 528.9,135.1 528.9,137.0 531.1,137.0 531.1,139.0"/>
<polygon fill="#ff0000" points="542.8,139.0 542.8,136.9 544.8,136.9 544.8,135.8 555.8,135.8 555.8,139.0"/>
<polygon fill="#ff0000" points="576.9,139.0 576.9,136.9 587.0,136.9 587.0,139.0"/>
<polygon fill="#ff0000" points="608.2,139.0 608.2,134.3 610.4,134.3 610.4,121.0 611.6,121.0 611.6,115.0 614.9,115.0 614.9,130.9 618.3,130.9 618.3,132.4 619.9,132.4 619.9,139.0"/>
<rect x="462.7" y="138.02" width="156.6" height="1.3" fill="#ee3430" fill-opacity="0.85"/>
<rect x="455.4" y="115.02" width="170.80" height="24.00" fill="none" stroke="#000" stroke-opacity="0.62" stroke-width="0.85"/>
<text x="449.4" y="123.19" textLength="6.42" lengthAdjust="spacingAndGlyphs">20</text>
<text x="449.4" y="131.66" textLength="6.42" lengthAdjust="spacingAndGlyphs">10</text>
<text x="449.4" y="140.12" textLength="3.21" lengthAdjust="spacingAndGlyphs">0</text>
<rect x="455.4" y="143.65" width="170.80" height="24.03" fill="#d6c5e1"/>
<polygon fill="#ff0000" points="540.0,167.7 540.0,144.0 545.6,144.0 545.6,143.6 553.1,143.6 553.1,145.9 555.4,145.9 555.4,155.7 556.9,155.7 556.9,158.8 559.1,158.8 559.1,160.0 562.1,160.0 562.1,158.0 570.4,158.0 570.4,159.0 572.7,159.0 572.7,160.0 575.4,160.0 575.4,154.2 577.2,154.2 577.2,147.4 579.0,147.4 579.0,143.7 585.5,143.7 585.5,145.9 587.0,145.9 587.0,151.5 589.0,151.5 589.0,157.2 590.8,157.2 590.8,159.1 593.5,159.1 593.5,160.6 595.6,160.6 595.6,162.5 596.8,162.5 596.8,163.3 609.7,163.3 609.7,164.5 611.9,164.5 611.9,166.0 613.7,166.0 613.7,167.7"/>
<rect x="462.7" y="166.68" width="156.6" height="1.3" fill="#ee3430" fill-opacity="0.85"/>
<rect x="455.4" y="143.65" width="170.80" height="24.03" fill="none" stroke="#000" stroke-opacity="0.62" stroke-width="0.85"/>
<text x="449.4" y="145.50" textLength="9.64" lengthAdjust="spacingAndGlyphs">100</text>
<text x="449.4" y="151.31" textLength="6.42" lengthAdjust="spacingAndGlyphs">75</text>
<text x="449.4" y="157.12" textLength="6.42" lengthAdjust="spacingAndGlyphs">50</text>
<text x="449.4" y="162.94" textLength="6.42" lengthAdjust="spacingAndGlyphs">25</text>
<text x="449.4" y="168.75" textLength="3.21" lengthAdjust="spacingAndGlyphs">0</text>
<rect x="455.4" y="172.28" width="170.80" height="24.05" fill="#d6c5e1"/>
<polygon fill="#ff0000" points="462.1,196.3 462.1,182.1 467.9,182.1 467.9,183.0 471.1,183.0 471.1,184.0 472.9,184.0 472.9,186.9 477.9,186.9 477.9,187.9 482.1,187.9 482.1,186.1 489.7,186.1 489.7,190.4 491.7,190.4 491.7,193.0 493.1,193.0 493.1,194.0 497.9,194.0 497.9,196.3"/>
<polygon fill="#ff0000" points="501.1,196.3 501.1,195.0 505.0,195.0 505.0,194.0 507.9,194.0 507.9,191.9 510.0,191.9 510.0,186.9 511.7,186.9 511.7,185.0 517.1,185.0 517.1,186.9 518.6,186.9 518.6,190.4 520.7,190.4 520.7,194.0 522.9,194.0 522.9,196.3"/>
<polygon fill="#ff0000" points="530.0,196.3 530.0,195.0 532.9,195.0 532.9,192.0 540.0,192.0 540.0,187.9 542.5,187.9 542.5,188.9 544.8,188.9 544.8,189.8 552.3,189.8 552.3,188.6 554.3,188.6 554.3,178.0 555.4,178.0 555.4,175.8 557.6,175.8 557.6,174.7 563.7,174.7 563.7,175.8 568.9,175.8 568.9,175.0 576.5,175.0 576.5,176.5 578.4,176.5 578.4,180.3 579.9,180.3 579.9,185.9 581.5,185.9 581.5,188.6 583.3,188.6 583.3,187.4 585.1,187.4 585.1,181.8 587.0,181.8 587.0,177.3 589.0,177.3 589.0,175.0 593.1,175.0 593.1,173.2 595.3,173.2 595.3,172.2 608.9,172.2 608.9,177.3 610.4,177.3 610.4,187.9 612.2,187.9 612.2,193.1 614.9,193.1 614.9,194.3 617.2,194.3 617.2,195.2 618.9,195.2 618.9,196.3"/>
<rect x="462.7" y="195.33" width="156.6" height="1.3" fill="#ee3430" fill-opacity="0.85"/>
<rect x="455.4" y="172.28" width="170.80" height="24.05" fill="none" stroke="#000" stroke-opacity="0.62" stroke-width="0.85"/>
<text x="449.4" y="174.01" textLength="9.64" lengthAdjust="spacingAndGlyphs">120</text>
<text x="449.4" y="179.86" textLength="6.42" lengthAdjust="spacingAndGlyphs">90</text>
<text x="449.4" y="185.70" textLength="6.42" lengthAdjust="spacingAndGlyphs">60</text>
<text x="449.4" y="191.54" textLength="6.42" lengthAdjust="spacingAndGlyphs">30</text>
<text x="449.4" y="197.38" textLength="3.21" lengthAdjust="spacingAndGlyphs">0</text>
<rect x="455.4" y="200.91" width="170.80" height="24.08" fill="#d6c5e1"/>
<polygon fill="#ff0000" points="541.0,225.0 541.0,220.0 542.8,220.0 542.8,218.0 545.9,218.0 545.9,215.0 551.9,215.0 551.9,212.0 555.8,212.0 555.8,225.0"/>
<polygon fill="#ff0000" points="579.0,225.0 579.0,222.1 587.0,222.1 587.0,225.0"/>
<polygon fill="#ff0000" points="607.1,225.0 607.1,214.2 608.6,214.2 608.6,200.9 611.9,200.9 611.9,209.0 613.7,209.0 613.7,225.0"/>
<rect x="462.7" y="223.99" width="156.6" height="1.3" fill="#ee3430" fill-opacity="0.85"/>
<rect x="455.4" y="200.91" width="170.80" height="24.08" fill="none" stroke="#000" stroke-opacity="0.62" stroke-width="0.85"/>
<text x="449.4" y="209.61" textLength="6.42" lengthAdjust="spacingAndGlyphs">10</text>
<text x="449.4" y="217.81" textLength="3.21" lengthAdjust="spacingAndGlyphs">5</text>
<text x="449.4" y="226.01" textLength="3.21" lengthAdjust="spacingAndGlyphs">0</text>
<rect x="455.4" y="229.54" width="170.80" height="24.10" fill="#d6c5e1"/>
<polygon fill="#ff0000" points="462.1,253.6 462.1,241.0 464.3,241.0 464.3,241.4 466.9,241.4 466.9,240.0 469.0,240.0 469.0,238.9 471.1,238.9 471.1,234.9 473.1,234.9 473.1,233.9 475.7,233.9 475.7,232.4 477.4,232.4 477.4,231.4 479.3,231.4 479.3,230.0 481.7,230.0 481.7,232.9 483.6,232.9 483.6,236.3 485.4,236.3 485.4,239.1 488.6,239.1 488.6,241.0 490.0,241.0 490.0,243.9 491.7,243.9 491.7,250.0 493.6,250.0 493.6,251.0 495.7,251.0 495.7,252.0 497.9,252.0 497.9,253.6"/>
<polygon fill="#ff0000" points="510.0,253.6 510.0,240.0 511.1,240.0 511.1,234.3 513.1,234.3 513.1,231.0 516.0,231.0 516.0,229.7 519.7,229.7 519.7,238.1 521.1,238.1 521.1,250.0 522.9,250.0 522.9,251.4 524.3,251.4 524.3,253.6"/>
<polygon fill="#ff0000" points="530.0,253.6 530.0,252.0 532.1,252.0 532.1,248.9 533.6,248.9 533.6,246.0 536.8,246.0 536.8,246.8 540.0,246.8 540.0,245.9 541.9,245.9 541.9,251.9 550.1,251.9 550.1,253.6"/>
<polygon fill="#ff0000" points="550.8,253.6 550.8,251.9 553.9,251.9 553.9,253.6"/>
<polygon fill="#ff0000" points="607.1,253.6 607.1,246.4 608.2,246.4 608.2,236.3 611.9,236.3 611.9,244.1 613.7,244.1 613.7,249.8 614.9,249.8 614.9,251.9 619.9,251.9 619.9,253.6"/>
<rect x="462.7" y="252.64" width="156.6" height="1.3" fill="#ee3430" fill-opacity="0.85"/>
<rect x="455.4" y="229.54" width="170.80" height="24.10" fill="none" stroke="#000" stroke-opacity="0.62" stroke-width="0.85"/>
<text x="449.4" y="234.40" textLength="6.42" lengthAdjust="spacingAndGlyphs">60</text>
<text x="449.4" y="241.15" textLength="6.42" lengthAdjust="spacingAndGlyphs">40</text>
<text x="449.4" y="247.89" textLength="6.42" lengthAdjust="spacingAndGlyphs">20</text>
<text x="449.4" y="254.64" textLength="3.21" lengthAdjust="spacingAndGlyphs">0</text>
<rect x="455.4" y="258.17" width="170.80" height="24.12" fill="#d6c5e1"/>
<rect x="507.1" y="258.17" width="4.8" height="24.12" fill="#ff0000"/>
<rect x="567.9" y="258.17" width="3.3" height="24.12" fill="#ff0000"/>
<rect x="576.9" y="258.17" width="10.1" height="24.12" fill="#ff0000"/>
<rect x="462.7" y="281.29" width="156.6" height="1.3" fill="#ee3430" fill-opacity="0.85"/>
<rect x="455.4" y="258.17" width="170.80" height="24.12" fill="none" stroke="#000" stroke-opacity="0.62" stroke-width="0.85"/>
<text x="449.4" y="260.46" textLength="11.24" lengthAdjust="spacingAndGlyphs">1.00</text>
<text x="449.4" y="266.16" textLength="11.24" lengthAdjust="spacingAndGlyphs">0.75</text>
<text x="449.4" y="271.87" textLength="11.24" lengthAdjust="spacingAndGlyphs">0.50</text>
<text x="449.4" y="277.57" textLength="11.24" lengthAdjust="spacingAndGlyphs">0.25</text>
<text x="449.4" y="283.27" textLength="11.24" lengthAdjust="spacingAndGlyphs">0.00</text>
<rect x="455.4" y="286.80" width="170.80" height="24.15" fill="#d6c5e1"/>
<rect x="455.4" y="286.80" width="170.80" height="24.15" fill="none" stroke="#000" stroke-opacity="0.62" stroke-width="0.85"/>
<text x="449.4" y="289.09" textLength="9.64" lengthAdjust="spacingAndGlyphs">500</text>
<text x="449.4" y="293.65" textLength="9.64" lengthAdjust="spacingAndGlyphs">400</text>
<text x="449.4" y="298.21" textLength="9.64" lengthAdjust="spacingAndGlyphs">300</text>
<text x="449.4" y="302.78" textLength="9.64" lengthAdjust="spacingAndGlyphs">200</text>
<text x="449.4" y="307.34" textLength="9.64" lengthAdjust="spacingAndGlyphs">100</text>
<text x="449.4" y="311.90" textLength="3.21" lengthAdjust="spacingAndGlyphs">0</text>
<rect x="455.4" y="315.43" width="170.80" height="24.18" fill="#d6c5e1"/>
<polygon fill="#ff0000" points="490.0,339.6 490.0,335.1 493.1,335.1 493.1,330.9 494.3,330.9 494.3,325.1 497.1,325.1 497.1,322.0 499.3,322.0 499.3,315.6 502.9,315.6 502.9,322.0 504.3,322.0 504.3,325.1 505.7,325.1 505.7,330.9 506.9,330.9 506.9,339.6"/>
<polygon fill="#ff0000" points="508.0,339.6 508.0,328.0 511.7,328.0 511.7,335.1 514.0,335.1 514.0,339.6"/>
<polygon fill="#ff0000" points="517.9,339.6 517.9,328.0 519.3,328.0 519.3,325.1 521.1,325.1 521.1,322.0 531.1,322.0 531.1,328.0 533.6,328.0 533.6,335.1 535.0,335.1 535.0,339.6"/>
<rect x="462.7" y="338.61" width="156.6" height="1.3" fill="#ee3430" fill-opacity="0.85"/>
<rect x="455.4" y="315.43" width="170.80" height="24.18" fill="none" stroke="#000" stroke-opacity="0.62" stroke-width="0.85"/>
<text x="449.4" y="320.98" textLength="3.21" lengthAdjust="spacingAndGlyphs">6</text>
<text x="449.4" y="327.50" textLength="3.21" lengthAdjust="spacingAndGlyphs">4</text>
<text x="449.4" y="334.01" textLength="3.21" lengthAdjust="spacingAndGlyphs">2</text>
<text x="449.4" y="340.53" textLength="3.21" lengthAdjust="spacingAndGlyphs">0</text>
<rect x="455.4" y="344.06" width="170.80" height="24.20" fill="#d6c5e1"/>
<polygon fill="#ff0000" points="487.9,368.3 487.9,364.1 492.9,364.1 492.9,361.3 496.4,361.3 496.4,355.1 499.7,355.1 499.7,361.3 500.9,361.3 500.9,368.3"/>
<polygon fill="#ff0000" points="507.1,368.3 507.1,364.1 508.6,364.1 508.6,361.3 513.6,361.3 513.6,368.3"/>
<polygon fill="#ff0000" points="517.9,368.3 517.9,361.3 519.3,361.3 519.3,344.6 522.9,344.6 522.9,364.1 524.3,364.1 524.3,368.3"/>
<polygon fill="#ff0000" points="530.0,368.3 530.0,361.3 532.1,361.3 532.1,358.0 535.0,358.0 535.0,368.3"/>
<rect x="462.7" y="367.26" width="156.6" height="1.3" fill="#ee3430" fill-opacity="0.85"/>
<rect x="455.4" y="344.06" width="170.80" height="24.20" fill="none" stroke="#000" stroke-opacity="0.62" stroke-width="0.85"/>
<text x="449.4" y="346.35" textLength="3.21" lengthAdjust="spacingAndGlyphs">8</text>
<text x="449.4" y="352.05" textLength="3.21" lengthAdjust="spacingAndGlyphs">6</text>
<text x="449.4" y="357.76" textLength="3.21" lengthAdjust="spacingAndGlyphs">4</text>
<text x="449.4" y="363.46" textLength="3.21" lengthAdjust="spacingAndGlyphs">2</text>
<text x="449.4" y="369.16" textLength="3.21" lengthAdjust="spacingAndGlyphs">0</text>
<rect x="455.4" y="372.69" width="170.80" height="24.22" fill="#d6c5e1"/>
<polygon fill="#ff0000" points="486.4,396.9 486.4,389.3 490.0,389.3 490.0,384.0 492.9,384.0 492.9,389.3 495.0,389.3 495.0,396.9"/>
<polygon fill="#ff0000" points="510.0,396.9 510.0,389.3 511.4,389.3 511.4,384.0 515.0,384.0 515.0,389.3 518.1,389.3 518.1,372.8 520.9,372.8 520.9,389.3 522.9,389.3 522.9,396.9"/>
<polygon fill="#ff0000" points="532.9,396.9 532.9,389.3 536.9,389.3 536.9,396.9"/>
<rect x="462.7" y="395.91" width="156.6" height="1.3" fill="#ee3430" fill-opacity="0.85"/>
<rect x="455.4" y="372.69" width="170.80" height="24.22" fill="none" stroke="#000" stroke-opacity="0.62" stroke-width="0.85"/>
<text x="449.4" y="374.98" textLength="3.21" lengthAdjust="spacingAndGlyphs">4</text>
<text x="449.4" y="380.68" textLength="3.21" lengthAdjust="spacingAndGlyphs">3</text>
<text x="449.4" y="386.39" textLength="3.21" lengthAdjust="spacingAndGlyphs">2</text>
<text x="449.4" y="392.09" textLength="3.21" lengthAdjust="spacingAndGlyphs">1</text>
<text x="449.4" y="397.79" textLength="3.21" lengthAdjust="spacingAndGlyphs">0</text>
<rect x="455.4" y="401.32" width="170.80" height="24.25" fill="#d6c5e1"/>
<polygon fill="#ff0000" points="471.1,425.6 471.1,421.1 491.9,421.1 491.9,425.6"/>
<polygon fill="#ff0000" points="510.0,425.6 510.0,416.1 511.4,416.1 511.4,409.7 512.9,409.7 512.9,406.4 516.0,406.4 516.0,401.8 519.7,401.8 519.7,419.0 520.9,419.0 520.9,425.6"/>
<polygon fill="#ff0000" points="532.1,425.6 532.1,421.1 533.6,421.1 533.6,419.0 538.6,419.0 538.6,421.1 541.7,421.1 541.7,425.6"/>
<rect x="462.7" y="424.57" width="156.6" height="1.3" fill="#ee3430" fill-opacity="0.85"/>
<rect x="455.4" y="401.32" width="170.80" height="24.25" fill="none" stroke="#000" stroke-opacity="0.62" stroke-width="0.85"/>
<text x="449.4" y="407.71" textLength="8.03" lengthAdjust="spacingAndGlyphs">7.5</text>
<text x="449.4" y="413.95" textLength="8.03" lengthAdjust="spacingAndGlyphs">5.0</text>
<text x="449.4" y="420.18" textLength="8.03" lengthAdjust="spacingAndGlyphs">2.5</text>
<text x="449.4" y="426.42" textLength="8.03" lengthAdjust="spacingAndGlyphs">0.0</text>
<rect x="455.4" y="429.95" width="170.80" height="24.28" fill="#d6c5e1"/>
<polygon fill="#ff0000" points="462.1,454.2 462.1,450.0 472.9,450.0 472.9,451.0 482.1,451.0 482.1,450.0 490.0,450.0 490.0,452.0 492.1,452.0 492.1,454.2"/>
<polygon fill="#ff0000" points="505.0,454.2 505.0,452.0 508.1,452.0 508.1,450.0 510.0,450.0 510.0,448.1 512.9,448.1 512.9,447.1 517.9,447.1 517.9,448.6 520.7,448.6 520.7,454.2"/>
<polygon fill="#ff0000" points="529.0,454.2 529.0,452.0 532.1,452.0 532.1,450.0 533.3,450.0 533.3,440.0 535.3,440.0 535.3,431.7 537.1,431.7 537.1,430.3 541.9,430.3 541.9,454.2"/>
<rect x="462.7" y="453.23" width="156.6" height="1.3" fill="#ee3430" fill-opacity="0.85"/>
<rect x="455.4" y="429.95" width="170.80" height="24.28" fill="none" stroke="#000" stroke-opacity="0.62" stroke-width="0.85"/>
<text x="449.4" y="434.81" textLength="6.42" lengthAdjust="spacingAndGlyphs">30</text>
<text x="449.4" y="441.56" textLength="6.42" lengthAdjust="spacingAndGlyphs">20</text>
<text x="449.4" y="448.30" textLength="6.42" lengthAdjust="spacingAndGlyphs">10</text>
<text x="449.4" y="455.05" textLength="3.21" lengthAdjust="spacingAndGlyphs">0</text>
<rect x="455.4" y="458.58" width="170.80" height="24.30" fill="#d6c5e1"/>
<polygon fill="#ff0000" points="462.1,482.9 462.1,471.0 476.1,471.0 476.1,472.0 478.1,472.0 478.1,473.9 480.7,473.9 480.7,475.3 484.3,475.3 484.3,476.0 490.0,476.0 490.0,478.1 492.4,478.1 492.4,479.6 497.9,479.6 497.9,482.9"/>
<polygon fill="#ff0000" points="529.0,482.9 529.0,480.0 530.7,480.0 530.7,476.0 532.1,476.0 532.1,471.4 533.3,471.4 533.3,463.1 535.3,463.1 535.3,460.0 537.9,460.0 537.9,459.1 541.9,459.1 541.9,480.2 578.0,480.2 578.0,481.2 610.1,481.2 610.1,482.9"/>
<rect x="462.7" y="481.88" width="156.6" height="1.3" fill="#ee3430" fill-opacity="0.85"/>
<rect x="455.4" y="458.58" width="170.80" height="24.30" fill="none" stroke="#000" stroke-opacity="0.62" stroke-width="0.85"/>
<text x="449.4" y="462.23" textLength="6.42" lengthAdjust="spacingAndGlyphs">60</text>
<text x="449.4" y="469.38" textLength="6.42" lengthAdjust="spacingAndGlyphs">40</text>
<text x="449.4" y="476.53" textLength="6.42" lengthAdjust="spacingAndGlyphs">20</text>
<text x="449.4" y="483.68" textLength="3.21" lengthAdjust="spacingAndGlyphs">0</text>
<rect x="455.4" y="487.21" width="170.80" height="24.32" fill="#cfcfcf"/>
<rect x="500.0" y="487.21" width="7.0" height="24.32" fill="#ff0000"/>
<rect x="522.0" y="487.21" width="6.0" height="24.32" fill="#ff0000"/>
<rect x="613.9" y="487.21" width="6.0" height="24.32" fill="#ff0000"/>
<rect x="462.7" y="510.53" width="156.6" height="1.3" fill="#ee3430" fill-opacity="0.85"/>
<rect x="455.4" y="487.21" width="170.80" height="24.32" fill="none" stroke="#000" stroke-opacity="0.62" stroke-width="0.85"/>
<text x="449.4" y="489.50" textLength="11.24" lengthAdjust="spacingAndGlyphs">1.00</text>
<text x="449.4" y="495.20" textLength="11.24" lengthAdjust="spacingAndGlyphs">0.75</text>
<text x="449.4" y="500.91" textLength="11.24" lengthAdjust="spacingAndGlyphs">0.50</text>
<text x="449.4" y="506.61" textLength="11.24" lengthAdjust="spacingAndGlyphs">0.25</text>
<text x="449.4" y="512.31" textLength="11.24" lengthAdjust="spacingAndGlyphs">0.00</text>
<rect x="455.4" y="515.84" width="170.80" height="24.35" fill="#cfcfcf"/>
<rect x="455.4" y="515.84" width="170.80" height="24.35" fill="none" stroke="#000" stroke-opacity="0.62" stroke-width="0.85"/>
<text x="449.4" y="518.13" textLength="9.64" lengthAdjust="spacingAndGlyphs">500</text>
<text x="449.4" y="522.69" textLength="9.64" lengthAdjust="spacingAndGlyphs">400</text>
<text x="449.4" y="527.25" textLength="9.64" lengthAdjust="spacingAndGlyphs">300</text>
<text x="449.4" y="531.82" textLength="9.64" lengthAdjust="spacingAndGlyphs">200</text>
<text x="449.4" y="536.38" textLength="9.64" lengthAdjust="spacingAndGlyphs">100</text>
<text x="449.4" y="540.94" textLength="3.21" lengthAdjust="spacingAndGlyphs">0</text>
<rect x="455.4" y="544.47" width="170.80" height="24.38" fill="#cfcfcf"/>
<rect x="501.0" y="544.47" width="7.0" height="24.38" fill="#ff0000"/>
<rect x="614.2" y="544.47" width="2.7" height="24.38" fill="#ff0000"/>
<rect x="462.7" y="567.85" width="156.6" height="1.3" fill="#ee3430" fill-opacity="0.85"/>
<rect x="455.4" y="544.47" width="170.80" height="24.38" fill="none" stroke="#000" stroke-opacity="0.62" stroke-width="0.85"/>
<text x="449.4" y="546.76" textLength="11.24" lengthAdjust="spacingAndGlyphs">1.00</text>
<text x="449.4" y="552.46" textLength="11.24" lengthAdjust="spacingAndGlyphs">0.75</text>
<text x="449.4" y="558.17" textLength="11.24" lengthAdjust="spacingAndGlyphs">0.50</text>
<text x="449.4" y="563.87" textLength="11.24" lengthAdjust="spacingAndGlyphs">0.25</text>
<text x="449.4" y="569.57" textLength="11.24" lengthAdjust="spacingAndGlyphs">0.00</text>
<rect x="455.4" y="573.10" width="170.80" height="24.40" fill="#cfcfcf"/>
<rect x="475.0" y="573.10" width="3.0" height="24.40" fill="#ff0000"/>
<rect x="510.0" y="573.10" width="2.0" height="24.40" fill="#ff0000"/>
<rect x="519.0" y="573.10" width="2.4" height="24.40" fill="#ff0000"/>
<rect x="533.7" y="573.10" width="2.3" height="24.40" fill="#ff0000"/>
<rect x="583.0" y="573.10" width="3.0" height="24.40" fill="#ff0000"/>
<rect x="462.7" y="596.50" width="156.6" height="1.3" fill="#ee3430" fill-opacity="0.85"/>
<rect x="455.4" y="573.10" width="170.80" height="24.40" fill="none" stroke="#000" stroke-opacity="0.62" stroke-width="0.85"/>
<text x="449.4" y="575.39" textLength="11.24" lengthAdjust="spacingAndGlyphs">1.00</text>
<text x="449.4" y="581.09" textLength="11.24" lengthAdjust="spacingAndGlyphs">0.75</text>
<text x="449.4" y="586.80" textLength="11.24" lengthAdjust="spacingAndGlyphs">0.50</text>
<text x="449.4" y="592.50" textLength="11.24" lengthAdjust="spacingAndGlyphs">0.25</text>
<text x="449.4" y="598.20" textLength="11.24" lengthAdjust="spacingAndGlyphs">0.00</text>
<rect x="455.4" y="601.30" width="170.80" height="15.40" fill="#cfcfcf"/>
<rect x="455.4" y="601.30" width="170.80" height="15.40" fill="none" stroke="#000" stroke-opacity="0.62" stroke-width="0.85"/>
<text x="449.4" y="603.18" textLength="9.64" lengthAdjust="spacingAndGlyphs">500</text>
<text x="449.4" y="606.12" textLength="9.64" lengthAdjust="spacingAndGlyphs">400</text>
<text x="449.4" y="609.05" textLength="9.64" lengthAdjust="spacingAndGlyphs">300</text>
<text x="449.4" y="611.98" textLength="9.64" lengthAdjust="spacingAndGlyphs">200</text>
<text x="449.4" y="614.92" textLength="9.64" lengthAdjust="spacingAndGlyphs">100</text>
<text x="449.4" y="617.85" textLength="3.21" lengthAdjust="spacingAndGlyphs">0</text>
</g>
<g font-size="6.5" text-anchor="middle" fill="#262626">
<text x="252.8" y="627.8" textLength="3.98" lengthAdjust="spacingAndGlyphs">0</text>
<text x="291.9" y="627.8" textLength="11.56" lengthAdjust="spacingAndGlyphs">5kb</text>
<text x="331.0" y="627.8" textLength="15.54" lengthAdjust="spacingAndGlyphs">10kb</text>
<text x="370.0" y="627.8" textLength="15.54" lengthAdjust="spacingAndGlyphs">15kb</text>
<text x="409.1" y="627.8" textLength="15.54" lengthAdjust="spacingAndGlyphs">20kb</text>
<text x="463.1" y="627.8" textLength="3.98" lengthAdjust="spacingAndGlyphs">0</text>
<text x="502.2" y="627.8" textLength="11.56" lengthAdjust="spacingAndGlyphs">5kb</text>
<text x="541.3" y="627.8" textLength="15.54" lengthAdjust="spacingAndGlyphs">10kb</text>
<text x="580.3" y="627.8" textLength="15.54" lengthAdjust="spacingAndGlyphs">15kb</text>
<text x="619.4" y="627.8" textLength="15.54" lengthAdjust="spacingAndGlyphs">20kb</text>
</g>
</svg></body></html>
